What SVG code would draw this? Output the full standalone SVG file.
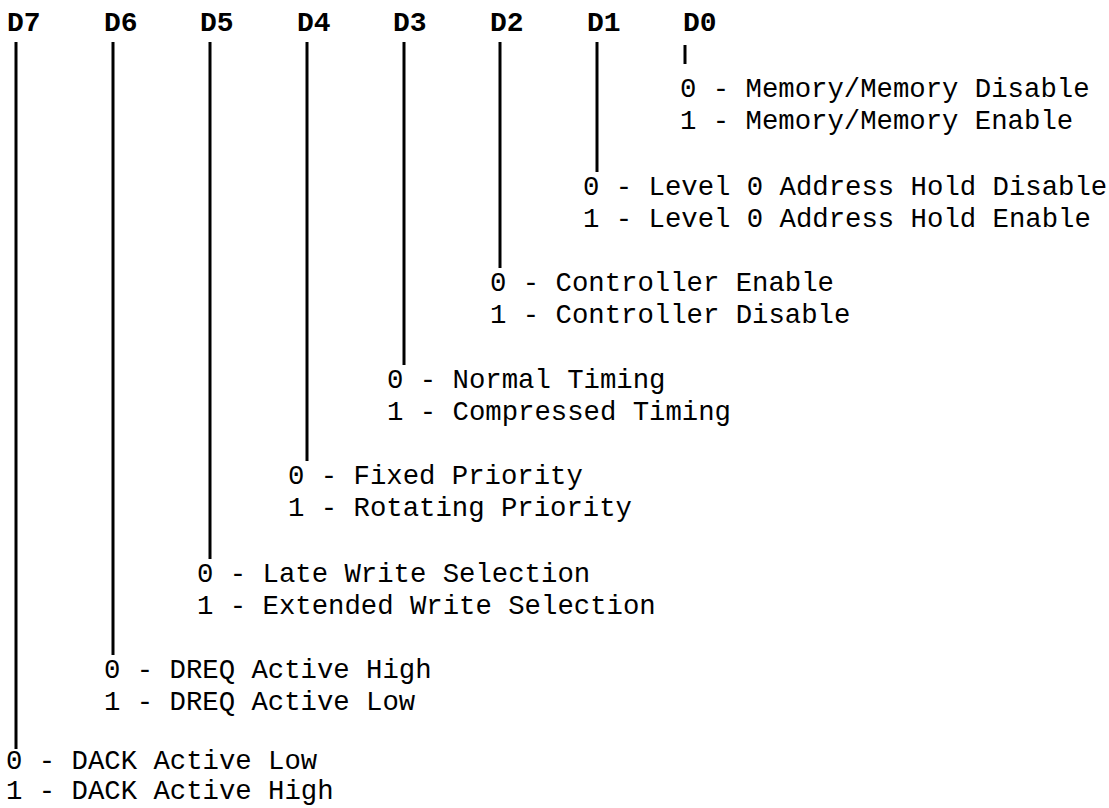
<svg xmlns="http://www.w3.org/2000/svg" width="1109" height="808" viewBox="0 0 1109 808">
<style>
.h{font-family:"Liberation Mono","Courier New",monospace;font-size:28px;font-weight:bold;fill:#000}
.t{font-family:"Liberation Mono","Courier New",monospace;font-size:27.3px;fill:#000;white-space:pre}
.ln{stroke:#000;stroke-width:3;fill:none}
</style>
<rect width="1109" height="808" fill="#fff"/>
<g id="connectors">
<line class="ln" x1="16" y1="42" x2="16" y2="749"/>
<line class="ln" x1="113" y1="42" x2="113" y2="655"/>
<line class="ln" x1="210" y1="42" x2="210" y2="559"/>
<line class="ln" x1="307" y1="42" x2="307" y2="461"/>
<line class="ln" x1="404" y1="42" x2="404" y2="365"/>
<line class="ln" x1="500" y1="42" x2="500" y2="268"/>
<line class="ln" x1="597" y1="42" x2="597" y2="172"/>
<line class="ln" x1="685" y1="45" x2="685" y2="64"/>
</g>
<g id="D7"><text class="h" x="7" y="31">D7</text>
<text class="t" x="6" y="769">0 - DACK Active Low</text>
<text class="t" x="6" y="799">1 - DACK Active High</text></g>
<g id="D6"><text class="h" x="104" y="31">D6</text>
<text class="t" x="104" y="678">0 - DREQ Active High</text>
<text class="t" x="104" y="710">1 - DREQ Active Low</text></g>
<g id="D5"><text class="h" x="200" y="31">D5</text>
<text class="t" x="197" y="582">0 - Late Write Selection</text>
<text class="t" x="197" y="614">1 - Extended Write Selection</text></g>
<g id="D4"><text class="h" x="297" y="31">D4</text>
<text class="t" x="288" y="484">0 - Fixed Priority</text>
<text class="t" x="288" y="516">1 - Rotating Priority</text></g>
<g id="D3"><text class="h" x="393" y="31">D3</text>
<text class="t" x="387" y="388">0 - Normal Timing</text>
<text class="t" x="387" y="420">1 - Compressed Timing</text></g>
<g id="D2"><text class="h" x="490" y="31">D2</text>
<text class="t" x="490" y="291">0 - Controller Enable</text>
<text class="t" x="490" y="323">1 - Controller Disable</text></g>
<g id="D1"><text class="h" x="587" y="31">D1</text>
<text class="t" x="583" y="195">0 - Level 0 Address Hold Disable</text>
<text class="t" x="583" y="227">1 - Level 0 Address Hold Enable</text></g>
<g id="D0"><text class="h" x="683" y="31">D0</text>
<text class="t" x="680" y="97">0 - Memory/Memory Disable</text>
<text class="t" x="680" y="129">1 - Memory/Memory Enable</text></g>
</svg>
